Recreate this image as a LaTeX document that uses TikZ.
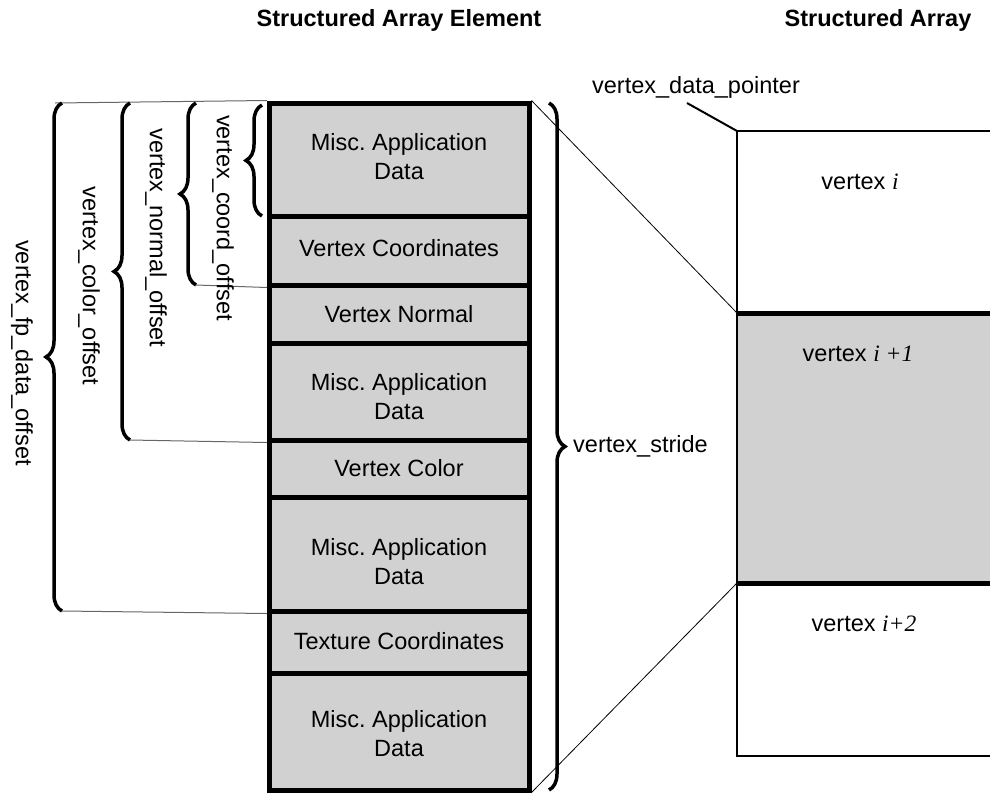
\documentclass[tikz,border=0pt]{standalone}
\usepackage{fontspec}
\setmainfont{Liberation Sans}
\newfontfamily\serifit{Liberation Serif}
\usetikzlibrary{decorations.pathreplacing}
\frenchspacing
\begin{document}
\begin{tikzpicture}[x=1pt,y=-1pt,
  font=\fontsize{23.5}{29}\selectfont,
  cellbox/.style={draw, line width=5pt, fill=black!18, minimum width=259.5pt, inner sep=0pt},
  celltext/.style={align=center, inner sep=0pt},
  leader/.style={draw=black!60, line width=1pt},
  bracedraw/.style={line width=3.5pt, decorate, decoration={brace, amplitude=16pt}},
  vlabel/.style={rotate=-90, inner sep=0pt},
  titletext/.style={font=\bfseries\fontsize{23.5}{28}\selectfont},
  fillgray/.style={fill=black!18}]
\useasboundingbox (0,0) rectangle (990,796);

% titles
\node[titletext] (t1) at (399,20) {Structured Array Element};
\node[titletext] (t2) at (878,20) {Structured Array};

% structured array element cells
\node[cellbox, minimum height=113pt] (c1) at (399.25,159.5) {};
\node[cellbox, minimum height=69pt]  (c2) at (399.25,250.5) {};
\node[cellbox, minimum height=58pt]  (c3) at (399.25,314) {};
\node[cellbox, minimum height=97pt]  (c4) at (399.25,391.5) {};
\node[cellbox, minimum height=57pt]  (c5) at (399.25,468.5) {};
\node[cellbox, minimum height=114pt] (c6) at (399.25,554) {};
\node[cellbox, minimum height=62pt]  (c7) at (399.25,642) {};
\node[cellbox, minimum height=117pt] (c8) at (399.25,731.5) {};

\node[celltext] (x1) at (399,157) {Misc. Application\\Data};
\node[celltext] (x2) at (399,248) {Vertex Coordinates};
\node[celltext] (x3) at (399,314) {Vertex Normal};
\node[celltext] (x4) at (399,397) {Misc. Application\\Data};
\node[celltext] (x5) at (399,468) {Vertex Color};
\node[celltext] (x6) at (399,562) {Misc. Application\\Data};
\node[celltext] (x7) at (399,641) {Texture Coordinates};
\node[celltext] (x8) at (399,734) {Misc. Application\\Data};

% structured array
\coordinate (rtl) at (737,131);
\coordinate (rbl) at (737,756);
\coordinate (m1) at (737,313);
\coordinate (m2) at (737,583);
\fill[fillgray] (m1) rectangle (995,583);
\draw[line width=2.5pt] (995,131) -- (rtl) -- (rbl) -- (995,756);
\draw[line width=5pt] (m1) -- (995,313);
\draw[line width=5pt] (m2) -- (995,583);

\node (v1) at (860,182) {vertex {\serifit\itshape i}};
\node (v2) at (858,354) {vertex {\serifit\itshape i +1}};
\node (v3) at (864,624) {vertex {\serifit\itshape i+2}};

% data pointer
\node (dp) at (696,87) {vertex\_data\_pointer};
\coordinate (dpl) at (687,103);
\draw[line width=2pt] (dpl) -- (rtl);

% projection lines
\draw[line width=0.8pt] (c1.north east) -- (m1);
\draw[line width=0.8pt] (c8.south east) -- (m2);

% leader lines
\coordinate (b0) at (55,103);
\coordinate (b1) at (196,285);
\coordinate (b2) at (130,440);
\coordinate (b3) at (62,611);
\draw[leader] (b0) -- (c1.north west);
\draw[leader] (b1) -- (c2.south west);
\draw[leader] (b2) -- (c4.south west);
\draw[leader] (b3) -- (c6.south west);

% braces
\draw[bracedraw] (262,216) -- (262,105);
\draw[bracedraw] (b1) -- (196,103);
\draw[bracedraw] (b2) -- (130,103);
\draw[bracedraw] (b3) -- (62,103);
\draw[bracedraw] (549,103) -- (549,790);

\node[vlabel] (l1) at (223,218) {vertex\_coord\_offset};
\node[vlabel] (l2) at (156,238) {vertex\_normal\_offset};
\node[vlabel] (l3) at (89,286) {vertex\_color\_offset};
\node[vlabel] (l4) at (22,353) {vertex\_fp\_data\_offset};

\node[anchor=west, inner sep=0pt] (vs) at (573,446) {vertex\_stride};
\end{tikzpicture}
\end{document}
